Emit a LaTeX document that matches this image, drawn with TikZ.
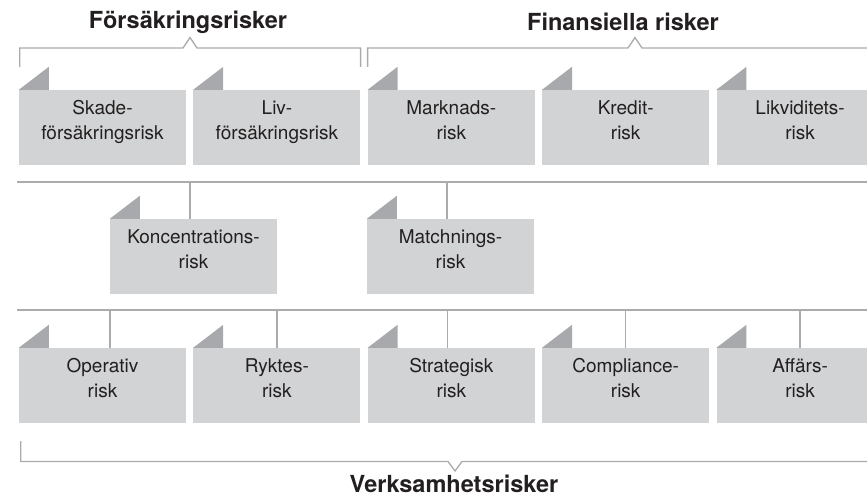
\documentclass[tikz,border=0pt]{standalone}
\usepackage{fontspec}
\setmainfont{TeX Gyre Heros}
\usetikzlibrary{positioning}

\definecolor{boxgray}{HTML}{D1D3D4}
\definecolor{tabgray}{HTML}{A7A9AC}
\definecolor{linegray}{HTML}{ABABAB}
\definecolor{textgray}{HTML}{231F20}

\begin{document}
\begin{tikzpicture}[x=1pt,y=1pt,node distance=7pt,
		risk/.style={fill=boxgray,minimum width=167pt,minimum height=75pt,inner sep=0pt,
			align=center,text=textgray,font=\fontsize{19}{25}\selectfont,
			text height=38pt,text depth=13pt},
		group/.style={text=textgray,font=\bfseries\fontsize{23.5}{28}\selectfont},
		tab/.style={fill=tabgray},
		rule/.style={draw=linegray,line width=1.3pt}]
	\useasboundingbox (0,0) rectangle (867,497);
	% top row
	\node[risk] (1) at (102.5,369.5)	{Skade-\\försäkringsrisk};
	\node[risk] (2) [right=of 1]		{Liv-\\försäkringsrisk};
	\node[risk] (3) [right=of 2]		{Marknads-\\risk};
	\node[risk] (4) [right=of 3]		{Kredit-\\risk};
	\node[risk] (5) [right=of 4]		{Likviditets-\\risk};
	% middle row
	\node[risk] (6) at (193.5,240.5)	{Koncentrations-\\risk};
	\node[risk] (7) at (450.5,240.5)	{Matchnings-\\risk};
	% bottom row
	\node[risk] (8) at (102.5,111.5)	{Operativ\\risk};
	\node[risk] (9) [right=of 8]		{Ryktes-\\risk};
	\node[risk] (10) [right=of 9]		{Strategisk\\risk};
	\node[risk] (11) [right=of 10]		{Compliance-\\risk};
	\node[risk] (12) [right=of 11]		{Affärs-\\risk};
	% folded corners
	\foreach \n in {1,...,12}
		\fill[tab] (\n.north west) -- ++(30,0) -- ++(0,23) -- cycle;

	% group titles
	\node[group] (fr) at (188,475)				{Försäkringsrisker};
	\node[group] (fi) at (623,475)				{Finansiella risker};
	\node[group,anchor=base] (vr) at (454,4)	{Verksamhetsrisker};

	% brackets
	\coordinate (fc) at (190,449);
	\coordinate (ic) at (635,449);
	\coordinate (ie) at (867,449);
	\coordinate (vc) at (455,35.5);
	\coordinate (ve) at (867,35.5);
	\draw[rule] ([shift={(1,23)}]1.north west) |- ([xshift=-7pt]fc) -- ++(7,10.5) -- ++(7,-10.5)
		-| ([yshift=23pt]2.north east);
	\draw[rule] ([yshift=23pt]3.north west) |- ([xshift=-7pt]ic) -- ++(7,10.5) -- ++(7,-10.5) -- (ie);
	\draw[rule] ([shift={(2,-18)}]8.south west) |- ([xshift=-7pt]vc) -- ++(7,-9.5) -- ++(7,9.5) -- (ve);

	% separators
	\coordinate (m0) at (17,315);
	\coordinate (m1) at (867,315);
	\coordinate (l0) at (17,187);
	\coordinate (l1) at (867,187);
	\draw[rule] (m0) -- (m1);
	\draw[rule] (l0) -- (l1);
	\draw[rule] ([xshift=-3.5pt]6.north) -- ([xshift=-3.5pt]6.north |- m0);
	\draw[rule] ([xshift=-3.5pt]7.north) -- ([xshift=-3.5pt]7.north |- m0);
	\draw[rule] ([xshift=7.5pt]8.north) -- ([xshift=7.5pt]8.north |- l0);
	\draw[rule] ([xshift=-3.5pt]10.north) -- ([xshift=-3.5pt]10.north |- l0);
	\foreach \n in {9,11,12}
		\draw[rule] (\n.north) -- (\n.north |- l0);
\end{tikzpicture}
\end{document}
